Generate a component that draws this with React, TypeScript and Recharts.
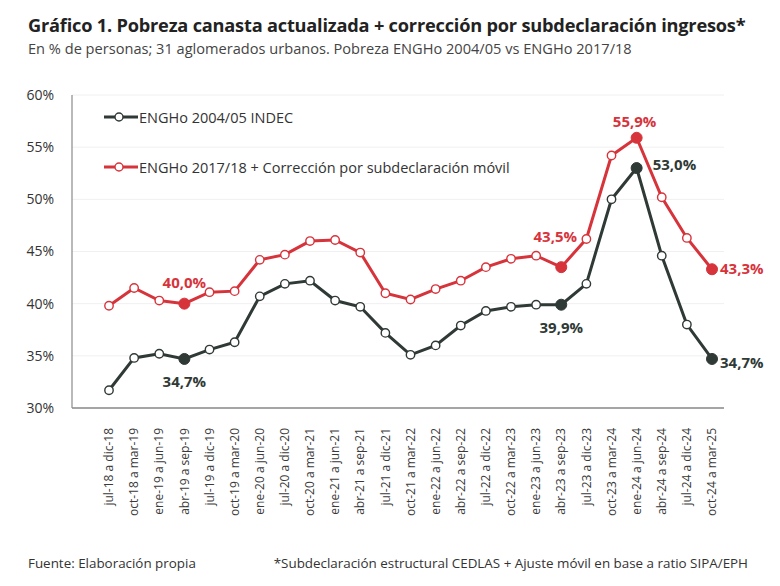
import React from "react";
import { CartesianGrid, Legend, Line, LineChart, XAxis, YAxis } from "recharts";

const periods = [
  "jul-18 a dic-18", "oct-18 a mar-19", "ene-19 a jun-19", "abr-19 a sep-19", "jul-19 a dic-19",
  "oct-19 a mar-20", "ene-20 a jun-20", "jul-20 a dic-20", "oct-20 a mar-21", "ene-21 a jun-21",
  "abr-21 a sep-21", "jul-21 a dic-21", "oct-21 a mar-22", "ene-22 a jun-22", "abr-22 a sep-22",
  "jul-22 a dic-22", "oct-22 a mar-23", "ene-23 a jun-23", "abr-23 a sep-23", "jul-23 a dic-23",
  "oct-23 a mar-24", "ene-24 a jun-24", "abr-24 a sep-24", "jul-24 a dic-24", "oct-24 a mar-25",
];

const engho2004 = [
  31.7, 34.8, 35.2, 34.7, 35.6, 36.3, 40.7, 41.9, 42.2, 40.3, 39.7, 37.2, 35.1,
  36.0, 37.9, 39.3, 39.7, 39.9, 39.9, 41.9, 50.0, 53.0, 44.6, 38.0, 34.7,
];

const engho2017 = [
  39.8, 41.5, 40.3, 40.0, 41.1, 41.2, 44.2, 44.7, 46.0, 46.1, 44.9, 41.0, 40.4,
  41.4, 42.2, 43.5, 44.3, 44.6, 43.5, 46.2, 54.2, 55.9, 50.2, 46.3, 43.3,
];

const yTicks = [30, 35, 40, 45, 50, 55, 60];
const highlighted = [3, 18, 21, 24];

const RED = "#d7333b";
const DARK = "#2f3935";
const FONT = "'Open Sans', sans-serif";

const data = periods.map((p, i) => ({ p, old: engho2004[i], neu: engho2017[i] }));

const pct = (v: number) => `${v.toFixed(1).replace(".", ",")}%`;

// where each highlighted value label sits relative to its point
const oldPos: Record<number, [number, number, string]> = {
  3: [0, 28, "middle"], 18: [0, 28, "middle"], 21: [16, 2, "start"], 24: [8, 9, "start"],
};
const neuPos: Record<number, [number, number, string]> = {
  3: [0, -16, "middle"], 18: [-6, -25, "middle"], 21: [-2, -11, "middle"], 24: [8, 5, "start"],
};

function makeDot(color: string) {
  return (props: any) => {
    const { cx, cy, index } = props;
    if (highlighted.includes(index))
      return <circle key={index} cx={cx} cy={cy} r={5.5} fill={color} stroke={color} strokeWidth={1} />;
    return <circle key={index} cx={cx} cy={cy} r={4.2} fill="#fff" stroke={color} strokeWidth={1.4} />;
  };
}

function makeLabel(color: string, pos: Record<number, [number, number, string]>) {
  return (props: any) => {
    const { x, y, index, value } = props;
    const p = pos[index];
    if (!p) return null;
    return (
      <text key={index} x={x + p[0]} y={y + p[1]} textAnchor={p[2] as any} fill={color}
        fontSize={15} fontWeight={700} fontFamily={FONT}>
        {pct(value)}
      </text>
    );
  };
}

function PeriodTick({ x, y, payload }: any) {
  return (
    <text x={0} y={0} transform={`translate(${x},${y + 12}) rotate(-90)`} textAnchor="end" dy="0.35em"
      fontSize={12} fill="#3a3a3a" fontFamily={FONT}>
      {payload.value}
    </text>
  );
}

function LegendBox() {
  const items = [
    { label: "ENGHo 2004/05 INDEC", color: DARK },
    { label: "ENGHo 2017/18 + Corrección por subdeclaración móvil", color: RED },
  ];
  return (
    <div style={{ fontFamily: FONT, fontSize: 14.5, color: "#333" }}>
      {items.map((it) => (
        <div key={it.label} style={{ display: "flex", alignItems: "center", height: 50 }}>
          <svg width={34} height={12}>
            <line x1={0} y1={6} x2={34} y2={6} stroke={it.color} strokeWidth={3} />
            <circle cx={15} cy={6} r={4} fill="#fff" stroke={it.color} strokeWidth={1.4} />
          </svg>
          <span style={{ marginLeft: 1 }}>{it.label}</span>
        </div>
      ))}
    </div>
  );
}

export default function App() {
  return (
    <div style={{ position: "absolute", left: 0, top: 0, width: 780, height: 586, background: "#fff", fontFamily: FONT }}>
      <div style={{ position: "absolute", left: 28, top: 13, fontSize: 18.2, fontWeight: 700, color: "#222", whiteSpace: "nowrap", letterSpacing: -0.2 }}>
        Gráfico 1. Pobreza canasta actualizada + corrección por subdeclaración ingresos*
      </div>
      <div style={{ position: "absolute", left: 28, top: 38, fontSize: 14.6, color: "#444", whiteSpace: "nowrap" }}>
        En % de personas; 31 aglomerados urbanos. Pobreza ENGHo 2004/05 vs ENGHo 2017/18
      </div>
      <LineChart width={780} height={586} data={data} margin={{ top: 95, right: 56, bottom: 60, left: 0 }}>
        <CartesianGrid vertical={false} stroke="#f0f0f0" />
        <XAxis dataKey="p" interval={0} tick={<PeriodTick />} tickLine={false} height={118}
          axisLine={{ stroke: "#8a8a8a", strokeWidth: 1.5 }} padding={{ left: 37, right: 12 }} />
        <YAxis domain={[30, 60]} ticks={yTicks} tickFormatter={(v) => `${v}%`} width={72}
          tickLine={false} axisLine={{ stroke: "#8a8a8a", strokeWidth: 1.2 }} tickMargin={12}
          tick={{ fontSize: 14, fill: "#333", fontFamily: FONT }} />
        <Legend content={<LegendBox />} layout="vertical" align="center" verticalAlign="middle"
          wrapperStyle={{ left: 104, top: 92, width: 520 }} />
        <Line dataKey="old" stroke={DARK} strokeWidth={3} dot={makeDot(DARK)} activeDot={false}
          label={makeLabel(DARK, oldPos)} isAnimationActive={false} />
        <Line dataKey="neu" stroke={RED} strokeWidth={3} dot={makeDot(RED)} activeDot={false}
          label={makeLabel(RED, neuPos)} isAnimationActive={false} />
      </LineChart>
      <div style={{ position: "absolute", left: 28, top: 554, fontSize: 13.4, color: "#333", whiteSpace: "nowrap" }}>
        Fuente: Elaboración propia
      </div>
      <div style={{ position: "absolute", right: 32, top: 554, fontSize: 13.4, color: "#333", whiteSpace: "nowrap" }}>
        *Subdeclaración estructural CEDLAS + Ajuste móvil en base a ratio SIPA/EPH
      </div>
    </div>
  );
}
